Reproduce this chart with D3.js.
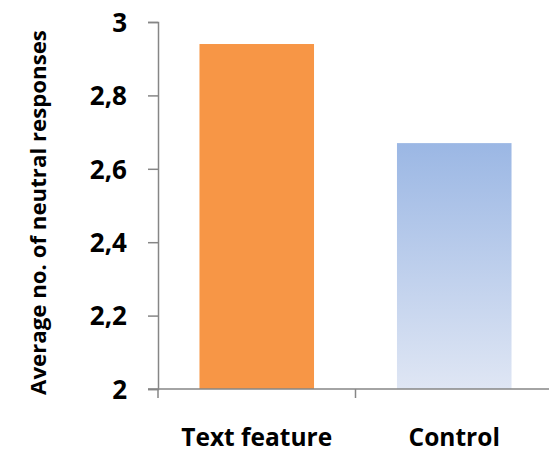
<!DOCTYPE html>
<html>
<head>
<meta charset="utf-8">
<script src="https://cdn.jsdelivr.net/npm/d3@7"></script>
<style>
  html, body { margin: 0; padding: 0; background: #fff; }
  svg { display: block; }
  text { font-family: "Open Sans", "Noto Sans", sans-serif; font-weight: bold; fill: #000; }
</style>
</head>
<body>
<svg id="chart" width="549" height="452"></svg>
<script>
// Average neutral responses per condition
const categories = ["Text feature", "Control"];
const values = [2.94, 2.67];
const yTicks = [2, 2.2, 2.4, 2.6, 2.8, 3];
const yTitle = "Average no. of neutral responses";

const svg = d3.select("#chart");
const W = 549, H = 452;
const x0 = 158, x1 = 553, yTop = 22, yBot = 389;

const x = d3.scaleBand().domain(categories).range([x0, x1]).paddingInner(0.42).paddingOuter(0.21);
const y = d3.scaleLinear().domain([2, 3]).range([yBot, yTop]);

// shrink a text's font size so it spans a given width
function fitWidth(sel, width, base) {
  sel.each(function () {
    const t = d3.select(this).style("font-size", base + "px");
    const w = this.getComputedTextLength();
    t.style("font-size", (base * width / w).toFixed(2) + "px");
  });
}

// gradient for the control bar
const defs = svg.append("defs");
const grad = defs.append("linearGradient").attr("id", "ctrlGrad")
  .attr("x1", 0).attr("y1", 0).attr("x2", 0).attr("y2", 1);
grad.append("stop").attr("offset", "0%").attr("stop-color", "#9bb7e4");
grad.append("stop").attr("offset", "100%").attr("stop-color", "#dfe6f4");

const fills = ["#f79646", "url(#ctrlGrad)"];

svg.selectAll("rect.bar").data(categories).enter().append("rect")
  .attr("class", "bar")
  .attr("x", d => x(d))
  .attr("width", x.bandwidth())
  .attr("y", (d, i) => y(values[i]))
  .attr("height", (d, i) => y(2) - y(values[i]))
  .attr("fill", (d, i) => fills[i]);

// y axis
const yAxis = d3.axisLeft(y).tickValues(yTicks).tickSize(10).tickPadding(21)
  .tickFormat(d => d3.format(".1f")(d).replace(".", ",").replace(",0", ""));
const gy = svg.append("g").attr("transform", `translate(${x0},0)`).call(yAxis);
gy.select(".domain").attr("stroke", "#868686").attr("stroke-width", 1.5);
gy.selectAll(".tick line").attr("stroke", "#868686").attr("stroke-width", 1.5);
gy.selectAll(".tick text").attr("font-family", null).attr("font-size", null)
  .style("font-family", "'Open Sans', sans-serif").style("font-weight", "bold")
  .style("font-size", "26px").attr("dy", "0.36em");

// x axis line and category boundary ticks
svg.append("line").attr("x1", x0 - 10).attr("x2", W).attr("y1", yBot).attr("y2", yBot)
  .attr("stroke", "#868686").attr("stroke-width", 1.5);
const boundaries = [x0, (x(categories[0]) + x.bandwidth() + x(categories[1])) / 2];
svg.selectAll("line.xt").data(boundaries).enter().append("line")
  .attr("x1", d => d).attr("x2", d => d).attr("y1", yBot).attr("y2", yBot + 9)
  .attr("stroke", "#868686").attr("stroke-width", 1.5);

svg.selectAll("text.xl").data(categories).enter().append("text")
  .attr("class", "xl")
  .attr("x", d => x(d) + x.bandwidth() / 2)
  .attr("y", 446)
  .attr("text-anchor", "middle")
  .style("font-size", "24.5px")
  .text(d => d);

const title = svg.append("text")
  .attr("transform", `translate(46,${(30 + 395) / 2}) rotate(-90)`)
  .attr("text-anchor", "middle")
  .style("font-size", "18px")
  .text(yTitle);
fitWidth(title, 365, 18);
</script>
</body>
</html>
